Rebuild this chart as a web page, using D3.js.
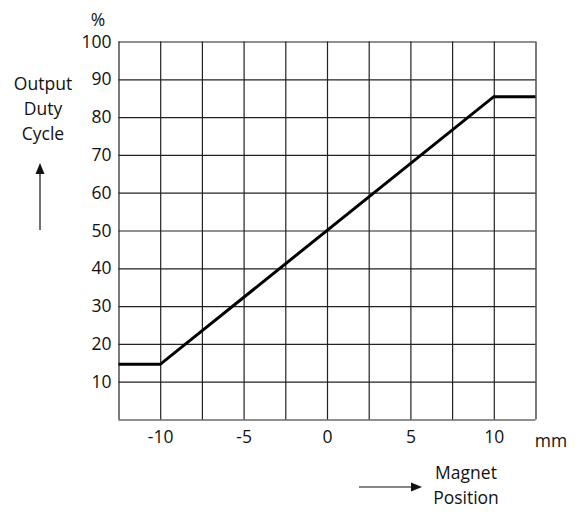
<!DOCTYPE html>
<html lang="en">
<head>
	<meta charset="utf-8">
	<title>Output Duty Cycle vs Magnet Position</title>
	<script src="https://d3js.org/d3.v7.min.js"></script>
	<style>
		body {
			margin: 0;
			background: #fff;
			font-family: "Open Sans", "Lato", sans-serif;
		}
		.grid line {
			stroke: #222;
			stroke-width: 1.2;
		}
		.grid .domain {
			display: none;
		}
		.lbl text {
			font-family: "Open Sans", sans-serif;
			font-size: 17.5px;
			fill: #111;
		}
		.lbl .domain, .lbl line {
			display: none;
		}
		.note {
			font-size: 17.5px;
			fill: #111;
		}
	</style>
</head>
<body>
<script>
	// values
	var xGrid = [-12.5, -10, -7.5, -5, -2.5, 0, 2.5, 5, 7.5, 10, 12.5];
	var yGrid = [0, 10, 20, 30, 40, 50, 60, 70, 80, 90, 100];
	var xTickLabels = [-10, -5, 0, 5, 10];
	var yTickLabels = [10, 20, 30, 40, 50, 60, 70, 80, 90, 100];
	var magnetPos = [-12.5, -10, 10, 12.5];
	var dutyCycle = [14.6, 14.6, 85.4, 85.4];
	var yTitle = ["Output", "Duty", "Cycle"];
	var xTitle = ["Magnet", "Position"];

	var width = 581;
	var height = 512;
	var margin = { top: 41.5, right: 45.5, bottom: 92.5, left: 118.5 };
	var w = width - margin.left - margin.right;
	var h = height - margin.top - margin.bottom;

	var svg = d3.select("body")
		.append("svg")
		.attr("width", width)
		.attr("height", height);

	var g = svg.append("g")
		.attr("transform", "translate(" + margin.left + "," + margin.top + ")");

	var x = d3.scaleLinear().domain([-12.5, 12.5]).range([0, w]);
	var y = d3.scaleLinear().domain([0, 100]).range([h, 0]);

	// grid
	g.append("g")
		.attr("class", "grid")
		.attr("transform", "translate(0," + h + ")")
		.call(d3.axisBottom(x).tickValues(xGrid).tickSize(-h).tickFormat(""));

	g.append("g")
		.attr("class", "grid")
		.call(d3.axisLeft(y).tickValues(yGrid).tickSize(-w).tickFormat(""));

	// tick labels (plain hyphen for negatives, like the original)
	g.append("g")
		.attr("class", "lbl")
		.attr("transform", "translate(0," + h + ")")
		.call(d3.axisBottom(x).tickValues(xTickLabels).tickSize(0).tickPadding(11).tickFormat(String));

	g.append("g")
		.attr("class", "lbl")
		.call(d3.axisLeft(y).tickValues(yTickLabels).tickSize(0).tickPadding(7).tickFormat(String));

	// the curve
	var pts = magnetPos.map(function(d, i) { return [d, dutyCycle[i]]; });
	g.append("path")
		.datum(pts)
		.attr("fill", "none")
		.attr("stroke", "#000")
		.attr("stroke-width", 3)
		.attr("stroke-linejoin", "miter")
		.attr("d", d3.line().x(function(d) { return x(d[0]); }).y(function(d) { return y(d[1]); }));

	// units
	svg.append("text").attr("class", "note")
		.attr("x", 98).attr("y", 26).attr("text-anchor", "middle").text("%");
	svg.append("text").attr("class", "note")
		.attr("x", 551).attr("y", 447).attr("text-anchor", "middle").text("mm");

	// y title + arrow
	svg.append("g").selectAll("text")
		.data(yTitle)
		.enter()
		.append("text")
		.attr("class", "note")
		.attr("x", 43)
		.attr("y", function(d, i) { return 90 + i * 25; })
		.attr("text-anchor", "middle")
		.text(function(d) { return d; });

	svg.append("line")
		.attr("x1", 40).attr("y1", 230).attr("x2", 40).attr("y2", 172)
		.attr("stroke", "#111").attr("stroke-width", 1.2);
	svg.append("path")
		.attr("d", "M40,163 L35.5,174 L44.5,174 Z")
		.attr("fill", "#111");

	// x title + arrow
	svg.append("g").selectAll("text")
		.data(xTitle)
		.enter()
		.append("text")
		.attr("class", "note")
		.attr("x", 466)
		.attr("y", function(d, i) { return 479 + i * 25; })
		.attr("text-anchor", "middle")
		.text(function(d) { return d; });

	svg.append("line")
		.attr("x1", 359).attr("y1", 487).attr("x2", 412).attr("y2", 487)
		.attr("stroke", "#111").attr("stroke-width", 1.2);
	svg.append("path")
		.attr("d", "M422,487 L411,482.5 L411,491.5 Z")
		.attr("fill", "#111");
</script>
</body>
</html>
